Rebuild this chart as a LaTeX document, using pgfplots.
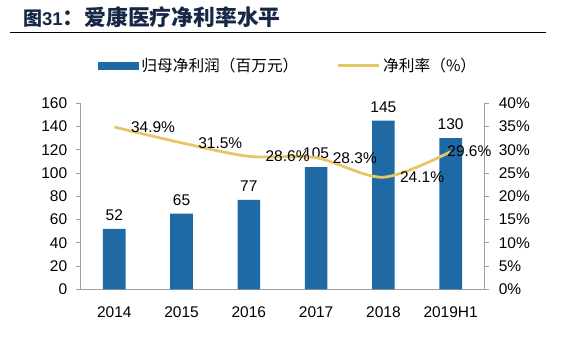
\documentclass[border=0pt]{standalone}
\usepackage{pgfplots}
\usepackage{pgfplotstable}
\pgfplotsset{compat=1.18}
\usepackage{fontspec}
\setmainfont{Liberation Sans}
\newfontfamily\cjk{Noto Sans CJK SC}
\definecolor{barblue}{RGB}{31,106,165}
\definecolor{lineyel}{RGB}{229,199,103}
\definecolor{axgray}{RGB}{160,160,160}
\definecolor{titlecol}{RGB}{22,40,70}
\pgfplotstableread{
x y
0.5 52
1.5 65
2.5 77
3.5 105
4.5 145
5.5 130
}\profittab
\pgfplotstableread{
x y dx
0.5 34.9 12
1.5 31.5 12
2.5 28.6 12
3.5 28.3 12
4.5 24.1 12
5.5 29.6 -8
}\ratetab
\begin{document}
\begin{tikzpicture}
\path[use as bounding box] (0pt,0pt) rectangle (571pt,354pt);
\node[anchor=west, inner sep=0, text=titlecol] at (23pt,337.3pt) {{\fontsize{19}{22}\selectfont\cjk\bfseries 图}{\fontsize{18.5}{22}\selectfont\bfseries 31}{\fontsize{21.8}{24}\selectfont\cjk\bfseries ：爱康医疗净利率水平}};
\draw[black, line width=0.9pt] (10pt,321.7pt) -- (546pt,321.7pt);
\begin{axis}[
  at={(80.7pt,64.7pt)}, anchor=south west, scale only axis,
  width=403.6pt, height=186pt,
  xmin=0, xmax=6, ymin=0, ymax=160,
  ytick={0,20,...,160},
  xtick={0.5,1.5,...,5.5},
  xticklabels={2014,2015,2016,2017,2018,2019H1},
  axis y line*=left, axis x line*=bottom,
  axis line style={-, draw=axgray, line width=0.9pt},
  xtick style={draw=none},
  ytick style={draw=axgray, line width=0.9pt},
  tick align=outside, major tick length=5pt,
  tick label style={font=\fontsize{15.5}{18}\selectfont},
  xticklabel style={yshift=-9pt},
  yticklabel style={xshift=-5pt},
  /pgf/number format/assume math mode=true,
  clip=false,
]
\addplot[ybar, bar width=22.7pt, fill=barblue, draw=none,
  nodes near coords, every node near coord/.append style={font=\fontsize{15.5}{18}\selectfont, text=black, yshift=5pt},
  point meta=y] table[x=x,y=y] {\profittab};
\end{axis}
\begin{axis}[
  at={(80.7pt,64.7pt)}, anchor=south west, scale only axis,
  width=403.6pt, height=186pt,
  xmin=0, xmax=6, ymin=0, ymax=40,
  ytick={0,5,...,40},
  yticklabel={\pgfmathprintnumber{\tick}\%},
  axis y line*=right, axis x line=none,
  axis line style={-, draw=axgray, line width=0.9pt},
  ytick style={draw=axgray, line width=0.9pt},
  tick align=outside, major tick length=5pt,
  tick label style={font=\fontsize{15.5}{18}\selectfont},
  yticklabel style={xshift=6pt},
  /pgf/number format/assume math mode=true,
  clip=false,
  legend columns=2,
  legend style={at={(0.035,1.203)}, anchor=west, draw=none, fill=none,
    font=\fontsize{15.7}{18}\selectfont\cjk,
    /tikz/every odd column/.append style={column sep=1pt},
    /tikz/every even column/.append style={column sep=36pt}},
]
\addlegendimage{legend image code/.code={\fill[barblue] (0pt,-3.2pt) rectangle (40pt,3.2pt);}}
\addlegendentry{归母净利润（百万元）}
\addplot[smooth, color=lineyel, line width=2.8pt,
  visualization depends on={\thisrow{dx} \as \dx},
  nodes near coords, every node near coord/.append style={font=\fontsize{15.5}{18}\selectfont, text=black, anchor=west, xshift=\dx pt},
  point meta=y, nodes near coords={\pgfmathprintnumber[fixed,fixed zerofill,precision=1]{\pgfplotspointmeta}\%},
  legend image code/.code={\draw[lineyel, line width=2.8pt] (0pt,0pt) -- (41pt,0pt);}]
  table[x=x,y=y] {\ratetab};
\addlegendentry{净利率（\%）}
\end{axis}
\end{tikzpicture}
\end{document}
